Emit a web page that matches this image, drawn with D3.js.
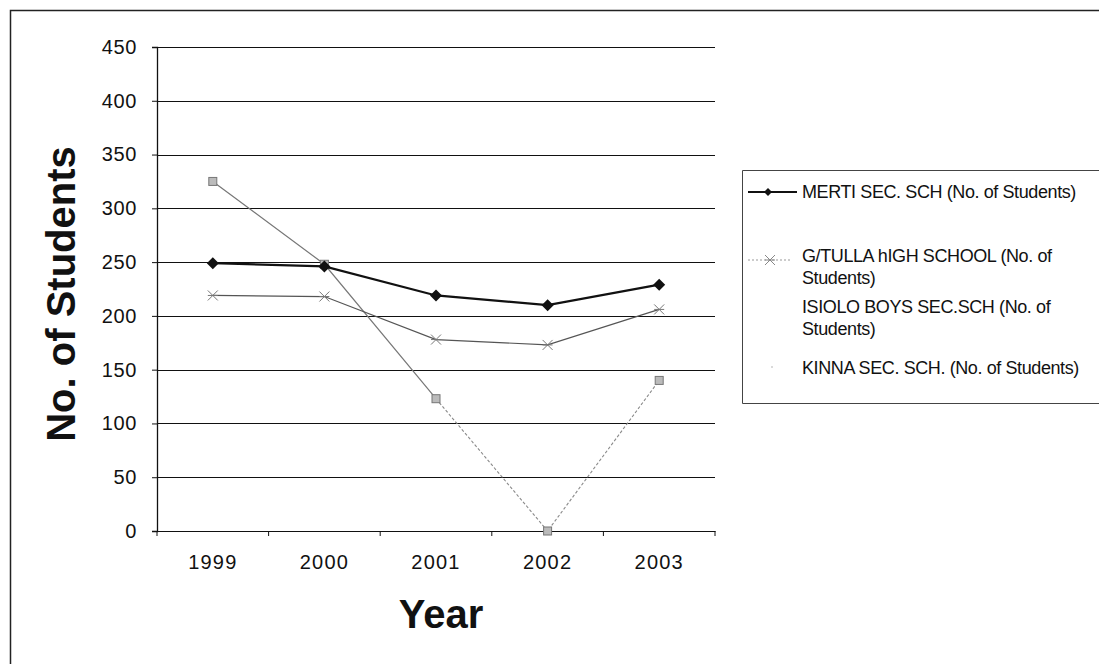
<!DOCTYPE html>
<html><head><meta charset="utf-8">
<script src="https://cdn.jsdelivr.net/npm/d3@7"></script>
<style>
body{margin:0;background:#fff;}
text{font-family:"Liberation Sans",Arial,sans-serif;}
</style></head>
<body><svg id="c" width="1099" height="664"></svg>
<script>
const years = ["1999","2000","2001","2002","2003"];
const merti = [249, 246, 219, 210, 229];
const gtulla = [219, 218, 178, 173, 206];
const isiolo = [325, 248, 123, 0, 140];
const kinna = [null, null, null, null, null];
const yTicks = [0,50,100,150,200,250,300,350,400,450];
const seriesNames = ["MERTI SEC. SCH (No. of Students)", "G/TULLA hIGH SCHOOL (No. of Students)", "ISIOLO BOYS SEC.SCH (No. of Students)", "KINNA SEC. SCH. (No. of Students)"];

const svg = d3.select("#c");
const L=157, R=715, T=47, B=531;
const x = d3.scaleBand().domain(years).range([L,R]);
const y = d3.scaleLinear().domain([0,450]).range([B,T]);
const FONT = "Liberation Sans, Arial, sans-serif";

// outer frame
svg.append("path").attr("d","M10.5,664 V10.5 H1099").attr("fill","none").attr("stroke","#222").attr("stroke-width",1.5);

// gridlines
svg.append("g").selectAll("line").data(yTicks).join("line")
  .attr("x1",L).attr("x2",R).attr("y1",d=>Math.round(y(d))+0.5).attr("y2",d=>Math.round(y(d))+0.5)
  .attr("stroke","#111").attr("stroke-width",1.2);

// y axis
const ya = svg.append("g").attr("transform",`translate(${L},0)`)
  .call(d3.axisLeft(y).tickValues(yTicks).tickSize(5).tickPadding(15));
ya.select(".domain").attr("stroke","#111").attr("stroke-width",1.3);
ya.selectAll("text").attr("font-size",20).attr("letter-spacing",0.6).attr("fill","#111").attr("font-family",FONT);
ya.selectAll(".tick line").attr("stroke","#111");

// x axis
const xa = svg.append("g").attr("transform",`translate(0,${B})`)
  .call(d3.axisBottom(x).tickSize(0).tickPadding(24));
xa.select(".domain").attr("stroke","#111").attr("stroke-width",1.2);
xa.selectAll("text").attr("font-size",20).attr("letter-spacing",1.2).attr("fill","#111").attr("font-family",FONT);
svg.append("g").selectAll("line").data(d3.range(years.length+1)).join("line")
  .attr("x1",i=>L+i*x.step()).attr("x2",i=>L+i*x.step()).attr("y1",B).attr("y2",B+5)
  .attr("stroke","#111");

// titles
svg.append("text").attr("transform","translate(75,294) rotate(-90)").attr("text-anchor","middle")
  .attr("font-size",40).attr("font-weight","bold").attr("fill","#111").text("No. of Students");
svg.append("text").attr("x",441).attr("y",628).attr("text-anchor","middle")
  .attr("font-size",40).attr("font-weight","bold").attr("fill","#111").text("Year");

const cx = d => x(d)+x.bandwidth()/2;
const line = d3.line().defined(d=>d[1]!=null).x(d=>cx(d[0])).y(d=>y(d[1]));
const pairs = arr => years.map((yr,i)=>[yr,arr[i]]);

// ISIOLO
const ip = pairs(isiolo);
svg.append("path").attr("d",line(ip.slice(0,3))).attr("fill","none").attr("stroke","#777").attr("stroke-width",1.2);
svg.append("path").attr("d",line(ip.slice(2))).attr("fill","none").attr("stroke","#8a8a8a").attr("stroke-width",1.1).attr("stroke-dasharray","3,2");
svg.append("g").selectAll("rect").data(ip).join("rect")
  .attr("x",d=>cx(d[0])-4).attr("y",d=>y(d[1])-4).attr("width",8).attr("height",8)
  .attr("fill","#bbb").attr("stroke","#777").attr("stroke-width",1);

// G/TULLA
svg.append("path").attr("d",line(pairs(gtulla))).attr("fill","none").attr("stroke","#555").attr("stroke-width",1.2);
const star = (g,px,py,c)=>{
  g.append("path").attr("d",`M${px-5},${py+5}L${px+5},${py-5}M${px-5},${py-5}L${px+5},${py+5}M${px-5},${py}L${px+5},${py}`)
   .attr("stroke",c).attr("stroke-width",1).attr("fill","none");
};
const gg = svg.append("g");
pairs(gtulla).forEach(d=>star(gg,cx(d[0]),y(d[1]),"#777"));

// MERTI
svg.append("path").attr("d",line(pairs(merti))).attr("fill","none").attr("stroke","#111").attr("stroke-width",2.2);
svg.append("g").selectAll("path").data(pairs(merti)).join("path")
  .attr("transform",d=>`translate(${cx(d[0])},${y(d[1])})`)
  .attr("d","M0,-6L6,0L0,6L-6,0Z").attr("fill","#111");

// legend
const lg = svg.append("g");
lg.append("path").attr("d","M1100,170.5 H742.5 V403.5 H1100").attr("fill","none").attr("stroke","#444").attr("stroke-width",1);
// entry 1
lg.append("line").attr("x1",748).attr("x2",797).attr("y1",192).attr("y2",192).attr("stroke","#111").attr("stroke-width",2);
lg.append("path").attr("transform","translate(768,192)").attr("d","M0,-4L4,0L0,4L-4,0Z").attr("fill","#111");
// entry 2
lg.append("line").attr("x1",748).attr("x2",792).attr("y1",260).attr("y2",260).attr("stroke","#999").attr("stroke-width",1).attr("stroke-dasharray","2,2");
star(lg,770,260,"#888");
// entry 4 marker
lg.append("circle").attr("cx",772).attr("cy",367).attr("r",0.8).attr("fill","#aaa");

const legLines = [
  [seriesNames[0], 198],
  ["G/TULLA hIGH SCHOOL (No. of", 262],
  ["Students)", 284],
  ["ISIOLO BOYS SEC.SCH (No. of", 313],
  ["Students)", 335],
  [seriesNames[3], 374]
];
lg.selectAll("text.l").data(legLines).join("text").attr("class","l")
  .attr("x",802).attr("y",d=>d[1]).attr("font-size",18).attr("fill","#111")
  .attr("letter-spacing",-0.4).text(d=>d[0]);
</script></body></html>
